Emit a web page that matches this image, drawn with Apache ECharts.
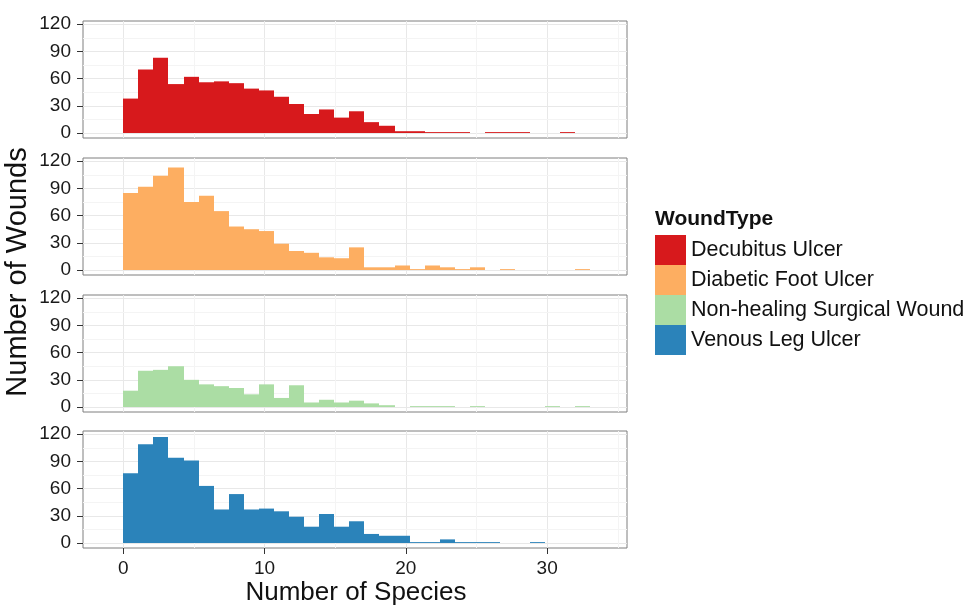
<!DOCTYPE html>
<html>
<head>
<meta charset="utf-8">
<script src="https://cdn.jsdelivr.net/npm/echarts@6/dist/echarts.min.js"></script>
<style>
  html, body { margin: 0; padding: 0; background: #fff; }
  #chart { width: 964px; height: 606px; }
</style>
</head>
<body>
<div id="chart"></div>
<script>
// histogram counts, one value per bin (30 bins over 0..32 -> bin width 32/30)
var BIN_W = 32 / 30;
var woundTypes = ['Decubitus Ulcer', 'Diabetic Foot Ulcer', 'Non-healing Surgical Wound', 'Venous Leg Ulcer'];
var decubitus = [38, 70, 83, 54, 62, 56, 57, 55, 49, 47, 40, 32, 21, 26, 17, 24, 12, 8, 2, 2, 1, 1, 1, 0, 1, 1, 1, 0, 0, 1, 0, 0, 0];
var diabetic  = [85, 92, 104, 113, 75, 82, 65, 48, 45, 43, 29, 21, 19, 14, 13, 25, 3, 3, 5, 1, 5, 3, 1, 3, 0, 1, 0, 0, 0, 0, 1, 0, 0];
var surgical  = [18, 40, 41, 45, 30, 25, 23, 21, 14, 25, 10, 24, 5, 8, 5, 7, 4, 2, 0, 1, 1, 1, 0, 1, 0, 0, 0, 0, 1, 0, 1, 0, 0];
var venous    = [77, 109, 117, 94, 91, 63, 37, 54, 37, 38, 35, 29, 18, 32, 18, 24, 10, 8, 8, 1, 1, 4, 1, 1, 1, 0, 0, 1, 0, 0, 0, 0, 0];
var xTicks = [0, 10, 20, 30];
var xMinor = [5, 15, 25, 35];
var yTicks = [0, 30, 60, 90, 120];
var yMinor = [15, 45, 75, 105];

var colors = ['#d7191c', '#fdae61', '#abdda4', '#2b83ba'];
var counts = [decubitus, diabetic, surgical, venous];
var FONT = "'Liberation Sans', Arial, Helvetica, sans-serif";

var chart = echarts.init(document.getElementById('chart'));

var tops = [21, 158, 295, 431];
var grids = [], xAxes = [], yAxes = [], series = [];

for (var k = 0; k < 4; k++) {
    grids.push({
        left: 83, width: 544, top: tops[k], height: 117,
        show: true, borderColor: '#7f7f7f', borderWidth: 1, backgroundColor: '#fff'
    });
    var last = (k == 3);
    xAxes.push({
        type: 'value', gridIndex: k, min: -2.85, max: 35.65,
        axisLine: { show: false, onZero: false },
        axisTick: { show: last, customValues: xTicks, length: 6, lineStyle: { color: '#333' } },
        axisLabel: { show: last, customValues: xTicks, margin: 11, fontSize: 19, color: '#1a1a1a', fontFamily: FONT },
        splitLine: { show: true, lineStyle: { color: '#e8e8e8', width: 1 } }
    });
    yAxes.push({
        type: 'value', gridIndex: k, min: -5.5, max: 123.6,
        axisLine: { show: false, onZero: false },
        axisTick: { show: true, customValues: yTicks, length: 6, lineStyle: { color: '#333' } },
        axisLabel: { customValues: yTicks, margin: 12, fontSize: 19, color: '#1a1a1a', fontFamily: FONT },
        splitLine: { show: true, lineStyle: { color: '#e8e8e8', width: 1 } }
    });

    var data = counts[k].map(function (c, i) { return [i * BIN_W, c]; });
    var minorLines = xMinor.map(function (v) { return { xAxis: v }; })
        .concat(yMinor.map(function (v) { return { yAxis: v }; }));

    series.push({
        name: woundTypes[k],
        type: 'custom',
        xAxisIndex: k,
        yAxisIndex: k,
        z: 10,
        itemStyle: { color: colors[k] },
        renderItem: (function (col) {
            return function (params, api) {
                var x0 = api.value(0), c = api.value(1);
                if (!c) return null;
                var p0 = api.coord([x0, 0]);
                var p1 = api.coord([x0 + BIN_W, c]);
                var left = Math.round(p0[0]), right = Math.round(p1[0]);
                return {
                    type: 'rect',
                    shape: { x: left, y: p1[1], width: right - left, height: p0[1] - p1[1] },
                    style: { fill: col }
                };
            };
        })(colors[k]),
        data: data,
        markLine: {
            silent: true,
            z: 1,
            symbol: 'none',
            label: { show: false },
            lineStyle: { color: '#f4f4f4', width: 1, type: 'solid' },
            emphasis: { disabled: true },
            animation: false,
            data: minorLines
        }
    });
}

var option = {
    animation: false,
    backgroundColor: '#fff',
    textStyle: { fontFamily: FONT },
    grid: grids,
    xAxis: xAxes,
    yAxis: yAxes,
    legend: {
        orient: 'vertical',
        left: 655, top: 235,
        padding: 0,
        itemWidth: 31, itemHeight: 30, itemGap: 0,
        icon: 'rect',
        data: woundTypes,
        textStyle: { fontSize: 21.5, color: '#111', fontFamily: FONT }
    },
    graphic: [
        {
            type: 'text', left: 655, top: 209,
            style: { text: 'WoundType', font: 'bold 21px ' + FONT, fill: '#111' }
        },
        {
            type: 'text', x: 356, y: 593,
            style: { text: 'Number of Species', font: '26px ' + FONT, fill: '#111', textAlign: 'center', textVerticalAlign: 'middle' }
        },
        {
            type: 'text', x: 18, y: 272, rotation: Math.PI / 2,
            style: { text: 'Number of Wounds', font: '29px ' + FONT, fill: '#111', textAlign: 'center', textVerticalAlign: 'middle' }
        }
    ],
    series: series
};

chart.setOption(option);
window.onresize = function () { chart.resize(); };
</script>
</body>
</html>
